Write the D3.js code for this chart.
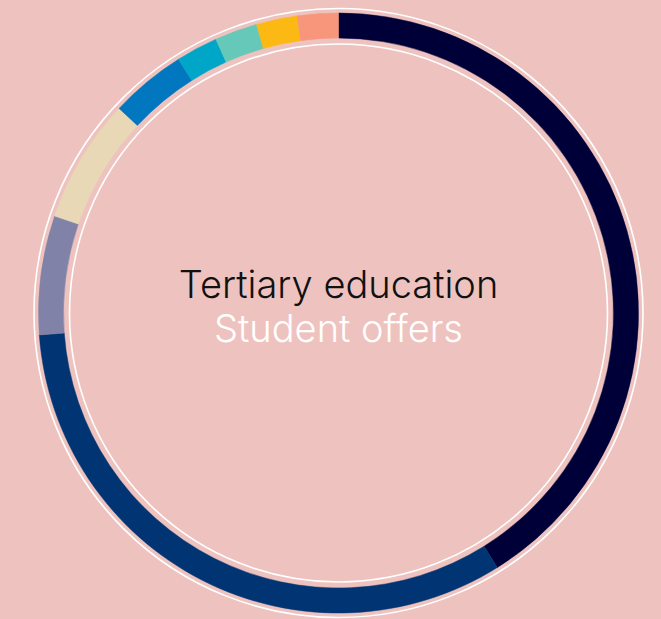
<!DOCTYPE html>
<html>
<head>
    <meta charset="utf-8" />
    <title>Tertiary education - Student offers</title>
    <style>
        html, body {
            margin: 0;
            padding: 0;
            background: #eec3bf;
        }
        svg {
            display: block;
        }
        .title {
            font-family: 'Inter', 'Roboto', sans-serif;
            font-weight: 300;
        }
    </style>
    <script src="https://cdn.jsdelivr.net/npm/d3@7/dist/d3.min.js"></script>
</head>
<body>
    <script>
        // segment shares, clockwise from the top
        var categories = ['A', 'B', 'C', 'D', 'E', 'F', 'G', 'H', 'I'];
        var values = [41.1, 32.7, 6.4, 6.7, 4.1, 2.25, 2.3, 2.2, 2.2];
        var colors = ['#000038', '#003472', '#8082a8', '#e8d8b6', '#0077bf', '#00a6c8', '#66c8b8', '#fdb913', '#f7967a'];
        var titleLines = ['Tertiary education', 'Student offers'];

        var width = 661,
            height = 619;
        var cx = 338.5,
            cy = 313;

        var data = categories.map(function(c, i) {
            return { name: c, value: values[i], color: colors[i] };
        });

        var svg = d3.select('body')
            .append('svg')
                .attr('width', width)
                .attr('height', height);

        svg.append('rect')
            .attr('width', width)
            .attr('height', height)
            .attr('fill', '#eec3bf');

        var g = svg.append('g')
            .attr('transform', 'translate(' + cx + ', ' + cy + ')');

        var pie = d3.pie()
            .sort(null)
            .value(function(d) { return d.value; });

        var arc = d3.arc()
            .innerRadius(275)
            .outerRadius(300);

        g.selectAll('path.slice')
            .data(pie(data))
            .enter().append('path')
                .attr('class', 'slice')
                .attr('d', arc)
                .attr('fill', function(d) { return d.data.color; })
                .attr('stroke', function(d) { return d.data.color; })
                .attr('stroke-width', 0.5);

        // thin white guide rings
        [269, 304.5].forEach(function(r) {
            g.append('circle')
                .attr('r', r)
                .attr('fill', 'none')
                .attr('stroke', '#ffffff')
                .attr('stroke-width', 1.6);
        });

        g.append('text')
            .attr('class', 'title')
            .attr('y', -15)
            .attr('text-anchor', 'middle')
            .style('font-size', '38px')
            .attr('fill', '#111111')
            .text(titleLines[0]);

        g.append('text')
            .attr('class', 'title')
            .attr('y', 29)
            .attr('text-anchor', 'middle')
            .style('font-size', '38px')
            .attr('fill', '#ffffff')
            .text(titleLines[1]);
    </script>
</body>
</html>
